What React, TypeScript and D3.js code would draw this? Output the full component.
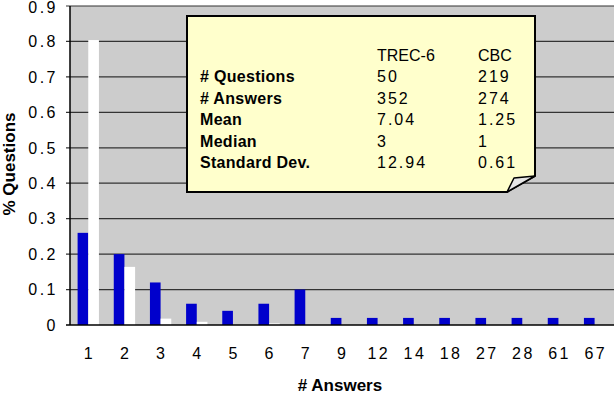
import React from "react";
import * as d3 from "d3";

const categories = ["1", "2", "3", "4", "5", "6", "7", "9", "12", "14", "18", "27", "28", "61", "67"];
const trec6 = [0.26, 0.2, 0.12, 0.06, 0.04, 0.06, 0.1, 0.02, 0.02, 0.02, 0.02, 0.02, 0.02, 0.02, 0.02];
const cbc = [0.804, 0.164, 0.018, 0.009, 0, 0.0046, 0, 0, 0, 0, 0, 0, 0, 0, 0];
const yTicks = [0, 0.1, 0.2, 0.3, 0.4, 0.5, 0.6, 0.7, 0.8, 0.9];
const statRows = ["# Questions", "# Answers", "Mean", "Median", "Standard Dev."];
const statTrec = ["50", "352", "7.04", "3", "12.94"];
const statCbc = ["219", "274", "1.25", "1", "0.61"];
const statHeader = ["TREC-6", "CBC"];

const W = 614, H = 394;
const left = 70, right = 612.5, top = 6, bottom = 325;
const font = "'Liberation Sans', Arial, Helvetica, sans-serif";

export default function App() {
  const x = d3.scaleBand<string>().domain(categories).range([left, right]).padding(0);
  const y = d3.scaleLinear().domain([0, 0.9]).range([bottom, top]);
  const bw = x.bandwidth();
  const sub = d3.scaleBand<string>().domain(["trec", "cbc"]).range([bw * 0.21, bw * 0.8]).padding(0);
  const fmt = (v: number) => (v === 0 ? "0" : d3.format(".1f")(v));

  const bx0 = 187, by0 = 16, bx1 = 535, by1 = 192;
  const foldX = 507, foldY = 176;
  const rowY = (i: number) => 76.5 + i * 21.5;

  return (
    <svg width={W} height={H} style={{ position: "absolute", left: 0, top: 0, display: "block" }}>
      <rect x={0} y={0} width={W} height={H} fill="#ffffff" />
      <rect x={left} y={top} width={W - left} height={bottom - top} fill="#cccccc" />
      {yTicks.map((t) => (
        <g key={t}>
          {t > 0 && <line x1={left - 4} x2={W} y1={y(t)} y2={y(t)} stroke="#333333" strokeWidth={1.2} />}
          <text
            x={58}
            y={Math.max(y(t), 7)}
            dy="0.36em"
            textAnchor="end"
            fontFamily={font}
            fontSize={16}
            letterSpacing={2.5}
            fill="#000"
          >
            {fmt(t)}
          </text>
        </g>
      ))}
      {categories.map((c, i) => (
        <g key={c}>
          <rect
            x={(x(c) as number) + (sub("trec") as number)}
            y={y(trec6[i])}
            width={sub.bandwidth()}
            height={bottom - y(trec6[i])}
            fill="#0000cc"
          />
          {cbc[i] > 0 && (
            <rect
              x={(x(c) as number) + (sub("cbc") as number)}
              y={y(cbc[i])}
              width={sub.bandwidth()}
              height={bottom - y(cbc[i])}
              fill="#ffffff"
            />
          )}
          <text
            x={(x(c) as number) + (sub("trec") as number) + sub.bandwidth() + 1.2}
            y={353}
            dy="0.36em"
            textAnchor="middle"
            fontFamily={font}
            fontSize={16}
            letterSpacing={2.5}
            fill="#000"
          >
            {c}
          </text>
        </g>
      ))}
      <line x1={left} x2={left} y1={top} y2={bottom} stroke="#000" strokeWidth={1.5} />
      <line x1={left - 4} x2={W} y1={bottom} y2={bottom} stroke="#000" strokeWidth={1.5} />
      <text x={340} y={385} dy="0.36em" textAnchor="middle" fontFamily={font} fontSize={17} fontWeight="bold" fill="#000">
        # Answers
      </text>
      <text
        transform={`translate(8.5,164) rotate(-90)`}
        dy="0.36em"
        textAnchor="middle"
        fontFamily={font}
        fontSize={17}
        fontWeight="bold"
        fill="#000"
      >
        % Questions
      </text>
      <path
        d={`M${bx0},${by0}L${bx1},${by0}L${bx1},${foldY}L${foldX},${by1}L${bx0},${by1}Z`}
        fill="#ffffcc"
        stroke="#000"
        strokeWidth={2}
      />
      <path
        d={`M${foldX},${by1}L${foldX + 7},${foldY + 2}L${bx1},${foldY}Z`}
        fill="#e6e6e6"
        stroke="#000"
        strokeWidth={1.5}
        strokeLinejoin="round"
      />
      {statHeader.map((h, j) => (
        <text key={h} x={j === 0 ? 377 : 478} y={55.5} dy="0.36em" fontFamily={font} fontSize={16} fill="#000">
          {h}
        </text>
      ))}
      {statRows.map((r, i) => (
        <g key={r}>
          <text x={200} y={rowY(i)} dy="0.36em" fontFamily={font} fontSize={16} fontWeight="bold" letterSpacing={0.3} fill="#000">
            {r}
          </text>
          <text x={377} y={rowY(i)} dy="0.36em" fontFamily={font} fontSize={16} letterSpacing={2} fill="#000">
            {statTrec[i]}
          </text>
          <text x={478} y={rowY(i)} dy="0.36em" fontFamily={font} fontSize={16} letterSpacing={2} fill="#000">
            {statCbc[i]}
          </text>
        </g>
      ))}
    </svg>
  );
}
